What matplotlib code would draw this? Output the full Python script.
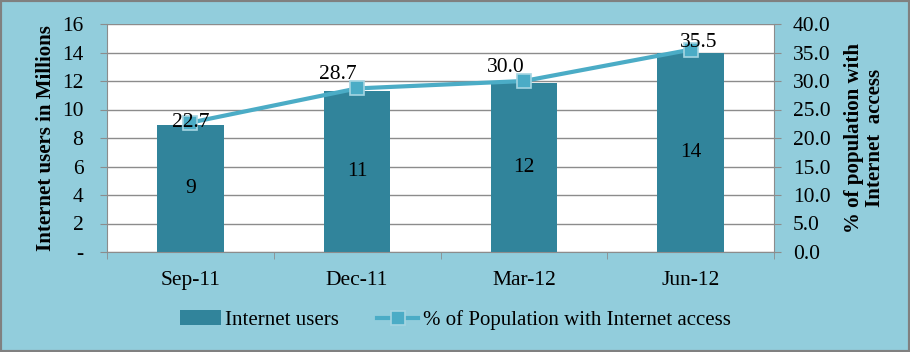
import matplotlib.pyplot as plt
import numpy as np

plt.rcParams['font.family'] = ['Liberation Serif', 'DejaVu Serif']

quarters = ["Sep-11", "Dec-11", "Mar-12", "Jun-12"]
users_millions = [8.9, 11.3, 11.88, 14.0]
users_labels = ["9", "11", "12", "14"]
pct_access = [22.7, 28.7, 30.0, 35.5]

left_ticks = [0, 2, 4, 6, 8, 10, 12, 14, 16]
left_tick_labels = ["-", "2", "4", "6", "8", "10", "12", "14", "16"]
right_ticks = [0, 5, 10, 15, 20, 25, 30, 35, 40]

# label offsets (points) for the % data labels, as placed in the original
pct_label_offsets = [(0, 0), (-14, 10), (-13, 10), (6, 5)]

bg = "#92CDDC"
bar_col = "#31849B"
line_col = "#4BACC6"
grid_col = "#8C8C8C"
fs = 15.5

fig = plt.figure(figsize=(9.1, 3.52), dpi=100, facecolor=bg)
ax = fig.add_axes([107 / 910, 1 - 252 / 352, 667 / 910, 228 / 352])
ax.set_facecolor("white")

x = np.arange(len(quarters))
bars = ax.bar(x, users_millions, width=0.4, color=bar_col, zorder=2, label="Internet users")
for xi, v, lab in zip(x, users_millions, users_labels):
    ax.text(xi, v / 2, lab, ha="center", va="center", fontsize=fs, zorder=5)

ax.set_xlim(-0.5, len(quarters) - 0.5)
ax.set_ylim(0, 16)
ax.set_yticks(left_ticks)
ax.set_yticklabels(left_tick_labels, fontsize=fs)
ax.set_xticks(x)
ax.set_xticklabels(quarters, fontsize=fs)
ax.tick_params(axis="x", length=0, pad=14)
ax.set_xticks(np.arange(len(quarters) + 1) - 0.5, minor=True)
ax.tick_params(axis="x", which="minor", length=5, color=grid_col, direction="out")
ax.tick_params(axis="y", length=5, color=grid_col, pad=12)
ax.grid(axis="y", color=grid_col, linewidth=1, zorder=0)
for s in ["top", "right"]:
    ax.spines[s].set_visible(False)
for s in ["left", "bottom"]:
    ax.spines[s].set_color(grid_col)
ax.set_ylabel("Internet users in Millions", fontsize=15, fontweight="bold", labelpad=4)

ax2 = ax.twinx()
line, = ax2.plot(x, pct_access, color=line_col, linewidth=3, marker="s", markersize=10,
                 markerfacecolor=line_col, markeredgecolor="#A5D5E2", markeredgewidth=1.2,
                 zorder=4, label="% of Population with Internet access")
for xi, v, off in zip(x, pct_access, pct_label_offsets):
    ax2.annotate(f"{v:.1f}", (xi, v), xytext=off, textcoords="offset points",
                 ha="center", va="center", fontsize=fs, zorder=6)
ax2.set_ylim(0, 40)
ax2.set_yticks(right_ticks)
ax2.set_yticklabels([f"{t:.1f}" for t in right_ticks], fontsize=fs)
ax2.tick_params(axis="y", length=5, color=grid_col, pad=8.5)
for s in ["top", "left", "bottom"]:
    ax2.spines[s].set_visible(False)
ax2.spines["right"].set_color(grid_col)
ax2.set_ylabel("% of population with\nInternet  access", fontsize=15, fontweight="bold",
               labelpad=10, linespacing=1.05)

fig.legend([bars, line], ["Internet users", "% of Population with Internet access"],
           loc="center", bbox_to_anchor=(0.5, 1 - 320 / 352), ncol=2, frameon=False,
           fontsize=15, handlelength=2.0, columnspacing=1.8, handletextpad=0.2)

fig.patches.append(plt.Rectangle((0, 0), 1, 1, transform=fig.transFigure, fill=False,
                                 edgecolor="#808080", linewidth=3))

fig.savefig("out.png", dpi=100, facecolor=bg)
